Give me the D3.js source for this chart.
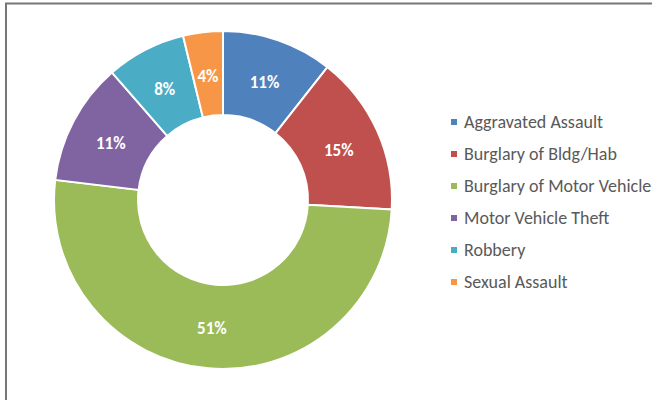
<!DOCTYPE html>
<html>
<head>
<meta charset="utf-8">
<script src="https://cdn.jsdelivr.net/npm/d3@7"></script>
<style>
  body { margin: 0; background: #fff; overflow: hidden; }
  #graph { width: 652px; height: 400px; }
</style>
</head>
<body>
<div id="graph"></div>
<script>
// Data ////////////////////////////////////////////////////////////////
const categories = ["Aggravated Assault", "Burglary of Bldg/Hab", "Burglary of Motor Vehicle", "Motor Vehicle Theft", "Robbery", "Sexual Assault"];
const values = [10.6, 15.3, 51.0, 11.7, 7.6, 3.8];
const labels = ["11%", "15%", "51%", "11%", "8%", "4%"];
const colors = ["#4F81BD", "#C0504D", "#9BBB59", "#8064A2", "#4BACC6", "#F79646"];

// Constants ////////////////////////////////////////////////////////////////
const svgWidth = 652;
const svgHeight = 400;
const center = { x: 223, y: 200 };
const outerR = 169;
const innerR = 85;
const font = "Carlito, 'Open Sans', 'Liberation Sans', sans-serif";

const svg = d3
  .select("#graph")
  .append("svg")
  .attr("width", svgWidth)
  .attr("height", svgHeight);

// Frame
svg.append("rect")
  .attr("x", 6)
  .attr("y", 3.5)
  .attr("width", svgWidth + 10)
  .attr("height", svgHeight + 10)
  .style("fill", "none")
  .style("stroke", "#767676")
  .style("stroke-width", 2);

const chartContainer = svg
  .append("g")
  .attr("transform", `translate(${center.x}, ${center.y})`);

const pie = d3.pie().sort(null).value(d => d.value);
const arcs = pie(values.map((v, i) => ({ value: v, i })));

const arc = d3.arc().innerRadius(innerR).outerRadius(outerR);
const labelArc = d3.arc().innerRadius((innerR + outerR) / 2).outerRadius((innerR + outerR) / 2);

chartContainer
  .selectAll(".slice")
  .data(arcs)
  .join("path")
  .attr("class", "slice")
  .attr("d", arc)
  .style("fill", d => colors[d.data.i])
  .style("stroke", "#fff")
  .style("stroke-width", 2);

chartContainer
  .selectAll(".sliceLabel")
  .data(arcs)
  .join("text")
  .attr("class", "sliceLabel")
  .attr("x", d => labelArc.centroid(d)[0])
  .attr("y", d => labelArc.centroid(d)[1] + 2)
  .attr("dy", "0.35em")
  .attr("text-anchor", "middle")
  .style("font-family", font)
  .style("font-size", "17px")
  .style("font-weight", "bold")
  .style("fill", "#fff")
  .text(d => labels[d.data.i]);

// Legend
const legendY = d3.scalePoint().domain(categories).range([122, 282]);

const legend = svg
  .selectAll(".legendItem")
  .data(categories)
  .join("g")
  .attr("class", "legendItem")
  .attr("transform", d => `translate(451, ${legendY(d)})`);

legend.append("rect")
  .attr("x", 0)
  .attr("y", -3)
  .attr("width", 6)
  .attr("height", 6)
  .style("fill", (d, i) => colors[i]);

legend.append("text")
  .attr("x", 13)
  .attr("y", 0)
  .attr("dy", "0.35em")
  .style("font-family", font)
  .style("font-size", "18px")
  .style("fill", "#595959")
  .text(d => d);
</script>
</body>
</html>
